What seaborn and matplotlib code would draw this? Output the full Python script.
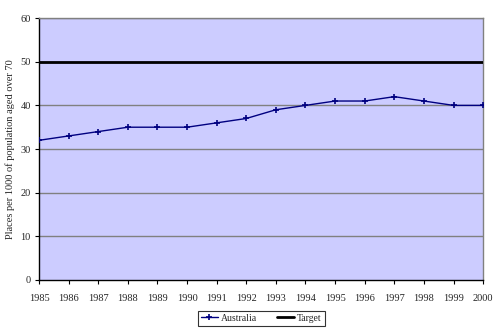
import matplotlib
matplotlib.use("Agg")
import matplotlib.pyplot as plt
import seaborn as sns
import pandas as pd

years = list(range(1985, 2001))
australia = [32, 33, 34, 35, 35, 35, 36, 37, 39, 40, 41, 41, 42, 41, 40, 40]
target = [50] * len(years)
y_ticks = [0, 10, 20, 30, 40, 50, 60]

df = pd.DataFrame({"Year": years, "Australia": australia, "Target": target})

sns.set_style("white")
plt.rcParams["font.family"] = ["Liberation Serif", "DejaVu Serif"]

fig = plt.figure(figsize=(4.99, 3.29), dpi=100)
ax = fig.add_axes([0.0782, 0.149, 0.890, 0.796])
ax.set_facecolor("#ccccff")

sns.lineplot(data=df, x="Year", y="Australia", ax=ax, color="#000080",
             marker="+", markersize=4, markeredgewidth=1.2,
             markeredgecolor="#000080", linewidth=1.0,
             label="Australia", zorder=3)
sns.lineplot(data=df, x="Year", y="Target", ax=ax, color="black",
             linewidth=2.0, label="Target", zorder=3)

ax.set_xlim(1985, 2000)
ax.set_ylim(0, 60)
ax.set_xticks(years)
ax.set_xticklabels([str(y) for y in years], fontsize=7.5)
ax.set_yticks(y_ticks)
ax.set_yticklabels([str(v) for v in y_ticks], fontsize=7.5)
for v in y_ticks[1:]:
    ax.axhline(v, color="#808080", linewidth=1.0, zorder=1)

ax.tick_params(axis="both", direction="out", length=3, width=0.8,
               color="black", pad=7, bottom=True, left=True)
ax.tick_params(axis="y", pad=3)
for side in ["left", "bottom"]:
    ax.spines[side].set_color("black")
    ax.spines[side].set_linewidth(1.0)
for side in ["right", "top"]:
    ax.spines[side].set_color("#808080")
    ax.spines[side].set_linewidth(1.0)

ax.set_xlabel("")
ax.set_ylabel("Places per 1000 of population aged over 70", fontsize=7.5, labelpad=4)

leg = ax.legend(loc="upper center", bbox_to_anchor=(0.50, -0.118), ncol=2,
                fontsize=7, frameon=True, fancybox=False, borderpad=0.3,
                handlelength=1.8, columnspacing=2.0, handletextpad=0.3,
                borderaxespad=0)
leg.get_frame().set_edgecolor("black")
leg.get_frame().set_linewidth(0.8)

fig.savefig("out.png", dpi=100, facecolor="white")
